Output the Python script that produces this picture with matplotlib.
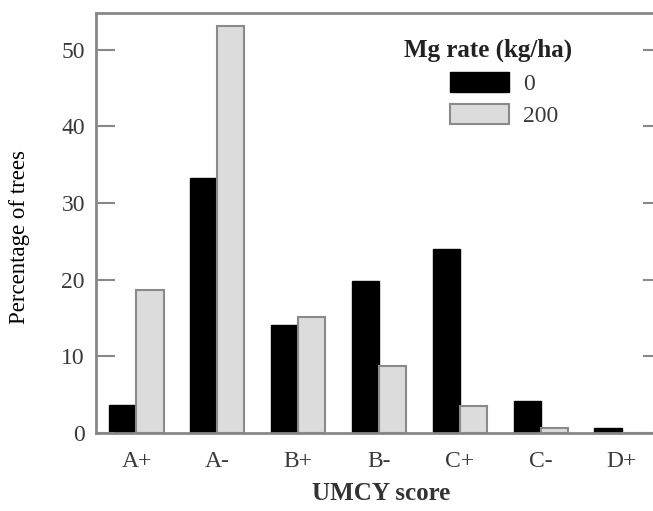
import matplotlib.pyplot as plt
import numpy as np

plt.rcParams['font.family'] = 'Liberation Serif'
plt.rcParams['font.size'] = 17

scores = ['A+', 'A-', 'B+', 'B-', 'C+', 'C-', 'D+']
mg_0 = [3.6, 33.3, 14.1, 19.8, 24.0, 4.2, 0.6]
mg_200 = [18.7, 53.1, 15.2, 8.7, 3.5, 0.7, 0.0]

x = np.arange(len(scores))
w = 0.335

fig = plt.figure(figsize=(6.53, 5.11), dpi=100)
ax = fig.add_axes([96/653, 1-433/511, (662-96)/653, 420/511])

ax.bar(x - w/2, mg_0, w, color='black', edgecolor='black', lw=1, label='0')
ax.bar(x + w/2, mg_200, w, color='#dcdcdc', edgecolor='#8a8a8a', lw=1.5, label='200')

ax.set_xlim(-0.5, 6.5)
ax.set_ylim(0, 54.8)
ax.set_xticks(x)
ax.set_xticklabels(scores)
ax.set_yticks([0, 10, 20, 30, 40, 50])
ax.tick_params(axis='y', direction='in', length=14, width=1.5, color='#888888',
               right=True, labelcolor='#3a3a3a', pad=8)
ax.tick_params(axis='x', length=0, labelcolor='#3a3a3a', pad=13)
for s in ax.spines.values():
    s.set_color('#888888')
    s.set_linewidth(2)

ax.set_xlabel('UMCY score', fontweight='bold', color='#333333', fontsize=18)
ax.xaxis.set_label_coords((381-96)/(662-96), -(482-433)/420)
ax.set_ylabel('Percentage of trees', fontsize=16.5)
ax.yaxis.set_label_coords(-(96-30)/(662-96), (433-237)/420)

# legend title drawn separately so it can sit a bit left of the handles
fig.text(488/653, 1-50/511, 'Mg rate (kg/ha)', ha='center', va='center',
         fontsize=18, fontweight='bold', color='#222222')
leg = ax.legend(frameon=False, loc='upper left',
                bbox_to_anchor=(450/653, 1-72/511), bbox_transform=fig.transFigure,
                borderpad=0, borderaxespad=0,
                fontsize=17, handlelength=2.5, handleheight=0.9, labelspacing=0.4,
                handletextpad=0.6)
for t in leg.get_texts():
    t.set_color('#3a3a3a')

fig.savefig('out.png', dpi=100)
